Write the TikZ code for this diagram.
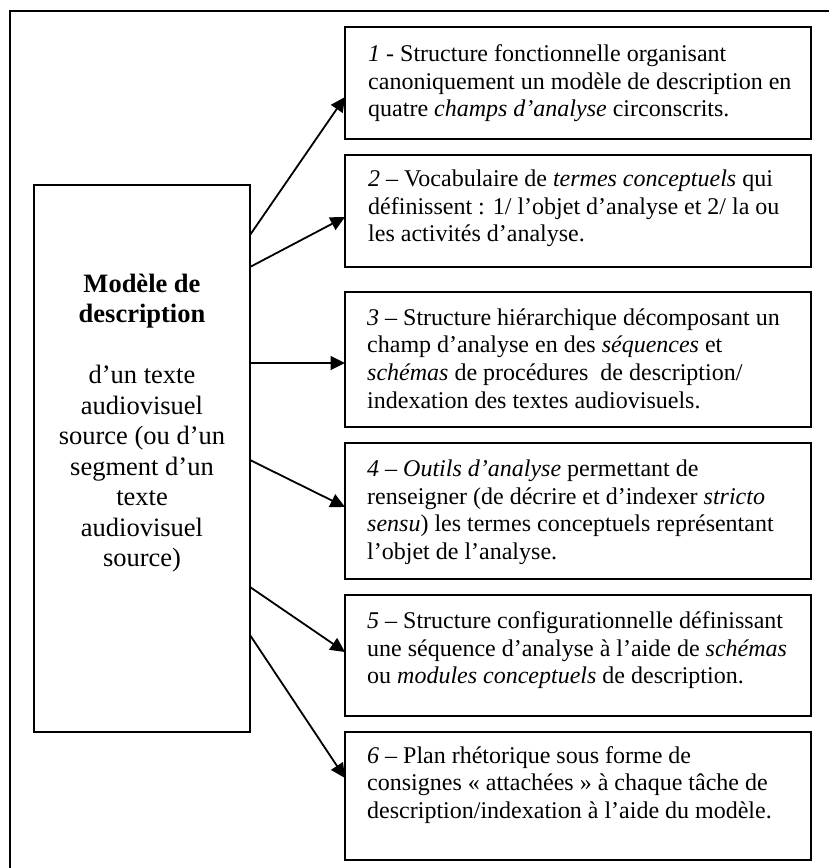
\documentclass[tikz,border=0pt]{standalone}
\usepackage{fontspec}
\setmainfont{Liberation Serif}
\usetikzlibrary{arrows.meta,calc}
\begin{document}
\begin{tikzpicture}[x=1pt,y=-1pt,
  box/.style={draw,line width=2pt,anchor=north west,inner sep=0pt,outer sep=0pt},
  rtext/.style={anchor=north west,align=left,inner sep=0pt,font=\fontsize{24}{27.6}\selectfont},
  ltext/.style={anchor=north,align=center,inner sep=0pt,font=\fontsize{26.5}{30.5}\selectfont},
  arr/.style={line width=1.8pt,-{Triangle[length=14.5pt,width=14pt]}},
  framestyle/.style={line width=2pt}]
\useasboundingbox (0,0) rectangle (829,868);
% outer frame (top and left sides only)
\draw[framestyle] (10,868) -- (10,11) -- (829,11);

% left box
\node[box,minimum width=216pt,minimum height=547pt] (L) at (34,185) {};
\node[ltext] (Lt) at ($(L.north)+(0,86)$) {\rule{0pt}{21pt}\textbf{Modèle de}\\ \textbf{description}\\[30.5pt]
d’un texte\\ audiovisuel\\ source (ou d’un\\ segment d’un\\ texte\\ audiovisuel\\ source)};

% right boxes
\node[box,minimum width=465.5pt,minimum height=112pt] (B1) at (345,27) {};
\node[box,minimum width=465.5pt,minimum height=112pt] (B2) at (345,155) {};
\node[box,minimum width=465.5pt,minimum height=135pt] (B3) at (345,292) {};
\node[box,minimum width=465.5pt,minimum height=135.5pt] (B4) at (345,443) {};
\node[box,minimum width=465.5pt,minimum height=121pt] (B5) at (345,595) {};
\node[box,minimum width=465.5pt,minimum height=128pt] (B6) at (345,732) {};

\node[rtext] (T1) at ($(B1.north west)+(23,14.5)$) {\rule{0pt}{20pt}\textit{1} - Structure fonctionnelle organisant\\
canoniquement un modèle de description en\\
quatre \textit{champs d’analyse} circonscrits.};
\node[rtext] (T2) at ($(B2.north west)+(23,11.5)$) {\rule{0pt}{20pt}\textit{2} – Vocabulaire de \textit{termes conceptuels} qui\\
définissent : 1/ l’objet d’analyse et 2/ la ou\\
les activités d’analyse.};
\node[rtext] (T3) at ($(B3.north west)+(22,13)$) {\rule{0pt}{20pt}\textit{3} – Structure hiérarchique décomposant un\\
champ d’analyse en des \textit{séquences} et\\
\textit{schémas} de procédures\ \ de description/\\
indexation des textes audiovisuels.};
\node[rtext] (T4) at ($(B4.north west)+(22,13.5)$) {\rule{0pt}{20pt}\textit{4 – Outils d’analyse} permettant de\\
renseigner (de décrire et d’indexer \textit{stricto}\\
\textit{sensu}) les termes conceptuels représentant\\
l’objet de l’analyse.};
\node[rtext] (T5) at ($(B5.north west)+(22,13.3)$) {\rule{0pt}{20pt}\textit{5} – Structure configurationnelle définissant\\
une séquence d’analyse à l’aide de \textit{schémas}\\
ou \textit{modules conceptuels} de description.};
\node[rtext] (T6) at ($(B6.north west)+(22,11)$) {\rule{0pt}{20pt}\textit{6} – Plan rhétorique sous forme de\\
consignes « attachées » à chaque tâche de\\
description/indexation à l’aide du modèle.};

% arrows
\draw[arr] ($(L.north east)+(0,50)$) -- ($(B1.north west)+(0,70)$);
\draw[arr] ($(L.north east)+(0,82)$) -- ($(B2.north west)+(0,62)$);
\draw[arr] ($(L.north east)+(0,178)$) -- ($(B3.north west)+(0,71)$);
\draw[arr] ($(L.north east)+(0,275)$) -- ($(B4.north west)+(0,64)$);
\draw[arr] ($(L.north east)+(0,402)$) -- ($(B5.north west)+(0,57)$);
\draw[arr] ($(L.north east)+(0,450)$) -- ($(B6.north west)+(0,46)$);
\end{tikzpicture}
\end{document}
